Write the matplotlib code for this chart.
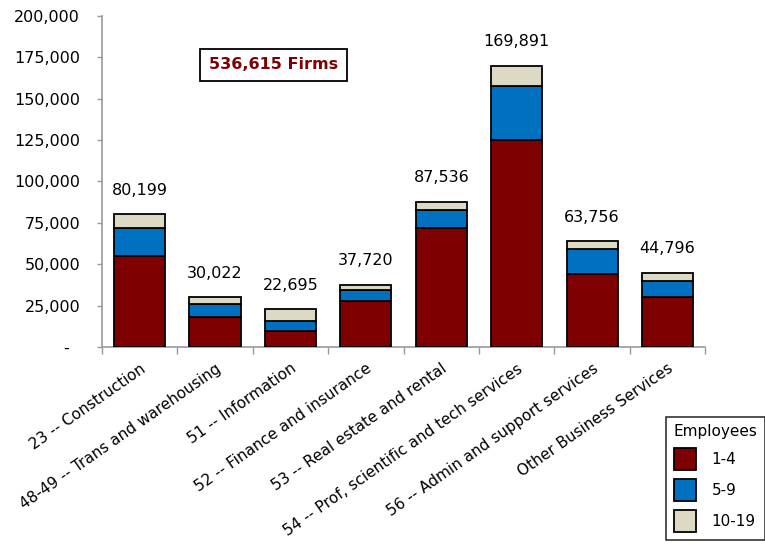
"""
Firms by industry and employee size class, stacked bars.
"""
import numpy as np
import matplotlib.pyplot as plt
from matplotlib.ticker import FuncFormatter

# Data
industries = ['23 -- Construction',
              '48-49 -- Trans and warehousing',
              '51 -- Information',
              '52 -- Finance and insurance',
              '53 -- Real estate and rental',
              '54 -- Prof, scientific and tech services',
              '56 -- Admin and support services',
              'Other Business Services']
size_classes = ['1-4', '5-9', '10-19']
firms_1_4 = [55000, 18000, 10000, 28000, 72000, 125000, 44000, 30000]
firms_5_9 = [16700, 8100, 6000, 6600, 10800, 32800, 15000, 10000]
firms_10_19 = [8499, 3922, 6695, 3120, 4736, 12091, 4756, 4796]
totals = [80199, 30022, 22695, 37720, 87536, 169891, 63756, 44796]
total_firms = 536615

colors = ['#7F0000', '#0070C0', '#DDD9C4']

plt.rcParams['font.family'] = 'DejaVu Sans'

fig = plt.figure(figsize=(7.65, 5.44), dpi=100)
ax = fig.add_axes([0.133, 0.362, 0.789, 0.609])

x = np.arange(len(industries))
bottom = np.zeros(len(industries))
for vals, c, lab in zip([firms_1_4, firms_5_9, firms_10_19], colors, size_classes):
    ax.bar(x, vals, width=0.68, bottom=bottom, color=c, edgecolor='black',
           linewidth=1.3, label=lab, zorder=3)
    bottom += np.array(vals)

# Total labels above each stack
for xi, t in zip(x, totals):
    ax.annotate('{:,}'.format(t), (xi, t), xytext=(0, 12),
                textcoords='offset points', ha='center', va='bottom',
                fontsize=11.5)

# Axes styling
ax.set_xlim(-0.5, len(industries) - 0.5)
ax.set_ylim(0, 200000)
ax.set_yticks(np.arange(0, 200001, 25000))
ax.yaxis.set_major_formatter(
    FuncFormatter(lambda v, p: '-  ' if v == 0 else '{:,.0f}'.format(v)))
ax.tick_params(axis='y', length=3.5, width=1, color='#999999', pad=12,
               labelsize=11.5)

ax.set_xticks(x)
ax.set_xticklabels(industries, rotation=35, ha='right', rotation_mode='anchor',
                   fontsize=11)
ax.tick_params(axis='x', length=0, pad=10)
ax.set_xticks(np.arange(-0.5, len(industries)), minor=True)
ax.tick_params(axis='x', which='minor', length=5, width=1, color='#999999')

for s in ['top', 'right']:
    ax.spines[s].set_visible(False)
for s in ['left', 'bottom']:
    ax.spines[s].set_color('#999999')
    ax.spines[s].set_linewidth(1.2)

# Total firms callout
ax.text(0.285, 0.852, '{:,} Firms'.format(total_firms), transform=ax.transAxes,
        ha='center', va='center', fontsize=11.5, fontweight='bold',
        color='#7F0000',
        bbox=dict(boxstyle='square,pad=0.55', facecolor='white',
                  edgecolor='black', linewidth=1.3))

leg = fig.legend(loc='upper left', bbox_to_anchor=(0.860, 0.248),
                 title='Employees', fontsize=11, title_fontsize=11,
                 frameon=True, fancybox=False, edgecolor='black',
                 handlelength=1.45, handleheight=1.9, labelspacing=0.55,
                 handletextpad=1.0, borderpad=0.5)
leg.get_frame().set_linewidth(1.2)

fig.savefig('out.png', dpi=100)
